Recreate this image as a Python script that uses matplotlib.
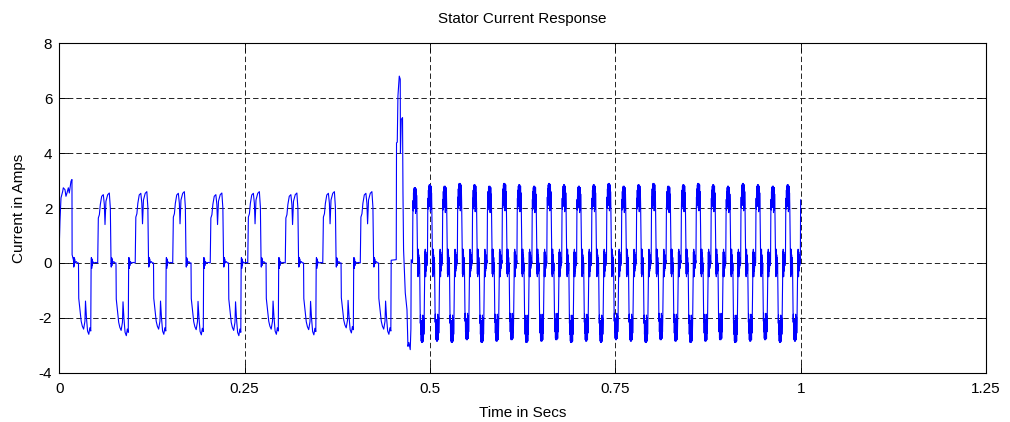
import numpy as np
import matplotlib
matplotlib.use("Agg")
import matplotlib.pyplot as plt

plt.rcParams['font.family'] = ['Liberation Sans', 'DejaVu Sans']

# ---------------- data ----------------
TITLE = "Stator Current Response"
XLABEL = "Time in Secs"
YLABEL = "Current in Amps"
X_TICKS = [0, 0.25, 0.5, 0.75, 1.0, 1.25]
X_TICK_LABELS = ["0", "0.25", "0.5", "0.75", "1", "1.25"]
Y_TICKS = [-4, -2, 0, 2, 4, 6, 8]
Y_TICK_LABELS = ["-4", "-2", "0", "2", "4", "6", "8"]

# first (start-up) positive pulse, time [s] / current [A]
FIRST_T = [0.0000, 0.0009, 0.0023, 0.0046, 0.0054, 0.0077, 0.0090, 0.0104,
           0.0122, 0.0135, 0.0158, 0.0171, 0.0173]
FIRST_V = [0.67, 1.52, 2.37, 2.61, 2.74, 2.67, 2.43, 2.55, 2.74, 2.55, 2.98,
           3.04, 0.30]

# low-speed region: one electrical cycle shape (phase fraction / current A)
SLOW_PH = [0.000, 0.017, 0.045, 0.070, 0.107, 0.150, 0.177, 0.195, 0.220, 0.267,
           0.310, 0.337, 0.355,
           0.362, 0.370, 0.378, 0.385, 0.400, 0.430, 0.460, 0.488,
           0.495, 0.530, 0.560, 0.590, 0.625, 0.660, 0.675, 0.700, 0.730, 0.763,
           0.790, 0.815, 0.825,
           0.832, 0.840, 0.848, 0.856, 0.870, 0.900, 0.950, 1.000]
SLOW_V = [0.00, 1.64, 1.76, 2.13, 2.43, 2.49, 2.13, 1.40, 2.25, 2.49,
          2.55, 2.00, 0.10,
          -0.15, 0.20, -0.10, 0.15, 0.00, 0.05, 0.00, 0.00,
          -1.30, -1.77, -2.14, -2.32, -2.43, -2.14, -1.40, -2.00, -2.50, -2.62,
          -2.38, -2.50, 0.00,
          0.20, -0.20, 0.15, -0.10, 0.05, 0.00, 0.02, 0.00]
SLOW_PERIOD = 0.0506
SLOW_STARTS = [0.0012, 0.0518, 0.1024, 0.1530, 0.2036, 0.2542, 0.3048, 0.3554, 0.4060]
SLOW_POS_PEAK = [3.04, 2.55, 2.60, 2.60, 2.55, 2.60, 2.55, 2.60, 2.60]
SLOW_NEG_PEAK = [-2.60, -2.65, -2.60, -2.62, -2.65, -2.60, -2.62, -2.55, -2.60]

# load / speed step transient
STEP_T = [0.4477, 0.4545, 0.4549, 0.4559, 0.4568, 0.4586, 0.4599, 0.4602, 0.4613,
          0.4630, 0.4636, 0.4644, 0.4667, 0.4690, 0.4703, 0.4716, 0.4734,
          0.4743, 0.4747]
STEP_V = [0.10, 0.12, 4.38, 4.40, 6.08, 6.81, 6.70, 4.00, 5.23,
          5.30, 2.56, 0.49, -1.09, -1.70, -3.04, -2.90, -3.16,
          -2.40, 0.12]

# high-speed region: one electrical cycle shape (with PWM chopping)
FAST_PH = [0.000, 0.020, 0.035, 0.050, 0.065, 0.080, 0.095, 0.110, 0.125, 0.140,
           0.155, 0.170, 0.185, 0.200, 0.215, 0.230, 0.245, 0.260, 0.275, 0.290,
           0.305, 0.320, 0.335,
           0.345, 0.355, 0.365, 0.375, 0.385, 0.395, 0.405, 0.415, 0.430, 0.445,
           0.460, 0.475,
           0.490, 0.505, 0.520, 0.535, 0.550, 0.565, 0.580, 0.595, 0.610, 0.625,
           0.640, 0.655, 0.670, 0.685, 0.700, 0.715, 0.730, 0.745, 0.760, 0.775,
           0.790, 0.805, 0.820,
           0.830, 0.840, 0.850, 0.860, 0.870, 0.880, 0.890, 0.900, 0.915, 0.930,
           0.945, 0.960, 0.975, 1.000]
FAST_V = [0.00, 1.80, 2.40, 2.00, 2.70, 2.20, 2.85, 2.30, 2.90, 2.10,
          2.80, 2.40, 2.90, 1.90, 2.75, 2.30, 2.85, 2.00, 2.60, 2.20,
          1.60, 1.00, 0.20,
          -0.40, 0.50, -0.50, 0.40, -0.30, 0.50, -0.40, 0.30, -0.20, 0.20,
          -0.30, 0.00,
          -0.80, -1.60, -2.20, -1.90, -2.60, -2.20, -2.85, -2.30, -2.90, -2.10,
          -2.80, -2.40, -2.90, -1.90, -2.75, -2.30, -2.85, -2.00, -2.60, -2.20,
          -1.60, -0.90, -0.20,
          0.40, -0.50, 0.50, -0.40, 0.30, -0.50, 0.40, -0.30, 0.30, -0.20,
          0.20, -0.10, 0.10, 0.00]
FAST_PERIOD = 0.02012
FAST_STARTS = [0.4765, 0.4966, 0.5167, 0.5369, 0.5570, 0.5771, 0.5972, 0.6173,
               0.6375, 0.6576, 0.6777, 0.6978, 0.7179, 0.7381, 0.7582, 0.7783,
               0.7984, 0.8185, 0.8387, 0.8588, 0.8789, 0.8990, 0.9191, 0.9393,
               0.9594, 0.9795, 0.9996]
FAST_POS_PEAK = [2.75, 2.85, 2.80, 2.90, 2.85, 2.80, 2.90, 2.85, 2.80, 2.90,
                 2.85, 2.80, 2.85, 2.90, 2.80, 2.85, 2.90, 2.80, 2.85, 2.90,
                 2.85, 2.80, 2.90, 2.85, 2.80, 2.85, 2.60]
FAST_NEG_PEAK = [-2.90, -2.85, -2.90, -2.80, -2.90, -2.85, -2.80, -2.90, -2.85,
                 -2.80, -2.90, -2.85, -2.90, -2.80, -2.85, -2.90, -2.80, -2.85,
                 -2.90, -2.85, -2.80, -2.90, -2.85, -2.80, -2.90, -2.85, -2.85]
END_T = 1.0
END_V = 2.30


def cycle(t0, period, ph, val, pos_peak, neg_peak, pos_rng, neg_rng):
    ph = np.asarray(ph, float)
    v = np.asarray(val, float).copy()
    pm = (ph >= pos_rng[0]) & (ph <= pos_rng[1])
    nm = (ph >= neg_rng[0]) & (ph <= neg_rng[1])
    v[pm] *= pos_peak / v[pm].max()
    v[nm] *= neg_peak / v[nm].min()
    return t0 + ph * period, v


ts, vs = [np.asarray(FIRST_T)], [np.asarray(FIRST_V)]
for k, t0 in enumerate(SLOW_STARTS):
    tt, vv = cycle(t0, SLOW_PERIOD, SLOW_PH, SLOW_V, SLOW_POS_PEAK[k],
                   SLOW_NEG_PEAK[k], (0.01, 0.34), (0.49, 0.82))
    if k == 0:
        keep = np.asarray(SLOW_PH) >= 0.355
        tt, vv = tt[keep], vv[keep]
    if k == len(SLOW_STARTS) - 1:
        keep = np.asarray(SLOW_PH) <= 0.825
        tt, vv = tt[keep], vv[keep]
    ts.append(tt); vs.append(vv)
ts.append(np.asarray(STEP_T)); vs.append(np.asarray(STEP_V))
for k, t0 in enumerate(FAST_STARTS):
    tt, vv = cycle(t0, FAST_PERIOD, FAST_PH, FAST_V, FAST_POS_PEAK[k],
                   FAST_NEG_PEAK[k], (0.02, 0.305), (0.505, 0.79))
    ts.append(tt); vs.append(vv)
t = np.concatenate(ts)
v = np.concatenate(vs)
keep = t < END_T
t = np.append(t[keep], END_T)
v = np.append(v[keep], END_V)

# ---------------- figure ----------------
fig = plt.figure(figsize=(10.10, 4.22), dpi=100)
ax = fig.add_axes([0.0587, 0.1168, 0.9175, 0.7802])
ax.plot(t, v, color='#0000ff', lw=0.8)
ax.set_xlim(0, 1.25)
ax.set_ylim(-4, 8)
ax.set_xticks(X_TICKS)
ax.set_xticklabels(X_TICK_LABELS)
ax.set_yticks(Y_TICKS)
ax.set_yticklabels(Y_TICK_LABELS)
ax.grid(True, color='black', linestyle=(0, (6.5, 3.6)), linewidth=0.6)
ax.tick_params(direction='in', top=True, right=True, length=6.5, width=0.6,
               labelsize=11)
ax.tick_params(axis='x', pad=7)
ax.tick_params(axis='y', pad=5)
for s in ax.spines.values():
    s.set_linewidth(0.8)
ax.set_title(TITLE, fontsize=11, pad=15)
ax.set_xlabel(XLABEL, fontsize=11, labelpad=7)
ax.set_ylabel(YLABEL, fontsize=11, labelpad=9)
fig.savefig("out.png", dpi=100)
